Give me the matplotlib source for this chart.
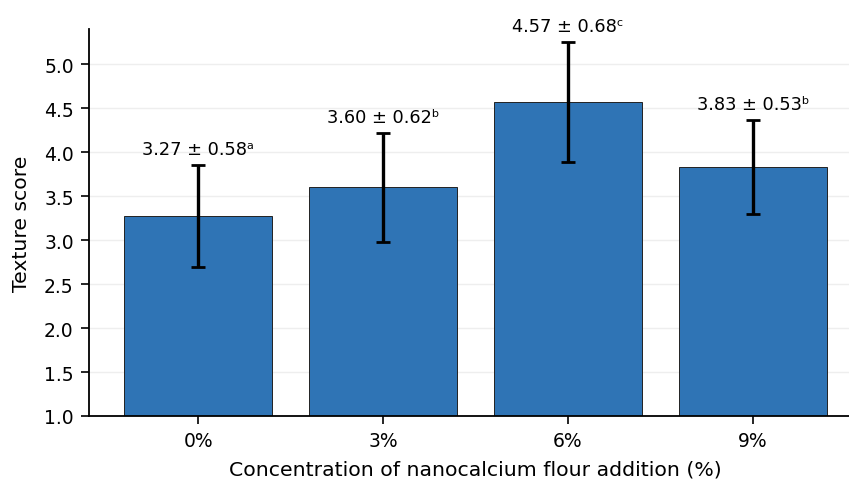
import matplotlib
matplotlib.use("Agg")
from matplotlib import pyplot as plt
import numpy as np

groups = ["0%", "3%", "6%", "9%"]
means = [3.27, 3.60, 4.57, 3.83]
sds = [0.58, 0.62, 0.68, 0.53]
letters = ["ᵃ", "ᵇ", "ᶜ", "ᵇ"]

fig = plt.figure(figsize=(8.49, 4.81), dpi=100)
ax = fig.add_axes([89/849, 1 - 417/481, (862 - 89)/849, (417 - 30)/481])

x = np.arange(len(groups))
ax.bar(x, means, width=0.8, color="#2f74b5", edgecolor="#222222", linewidth=0.7, zorder=2)
ax.errorbar(x, means, yerr=sds, fmt="none", ecolor="black", elinewidth=2.4,
            capsize=5, capthick=2, zorder=3)

for xi, m, s, l in zip(x, means, sds, letters):
    ax.text(xi, m + s + 0.08, f"{m:.2f} ± {s:.2f}{l}", ha="center", va="bottom", fontsize=12.8)

ax.set_xlim(-0.59, 3.59)
ax.set_ylim(1.0, 5.4)
ax.set_yticks(np.arange(1.0, 5.01, 0.5))
ax.set_xticks(x)
ax.set_xticklabels(groups)
ax.tick_params(labelsize=13.5, length=6, width=1.2, pad=5)
ax.yaxis.grid(True, color="#eeeeee", linewidth=1, zorder=0)
ax.set_axisbelow(True)
ax.spines["top"].set_visible(False)
ax.spines["right"].set_visible(False)
ax.spines["left"].set_linewidth(1.3)
ax.spines["bottom"].set_linewidth(1.3)
ax.set_xlabel("Concentration of nanocalcium flour addition (%)", fontsize=14.7, labelpad=7)
ax.set_ylabel("Texture score", fontsize=14.7, labelpad=9)

fig.savefig("out.png", dpi=100)
